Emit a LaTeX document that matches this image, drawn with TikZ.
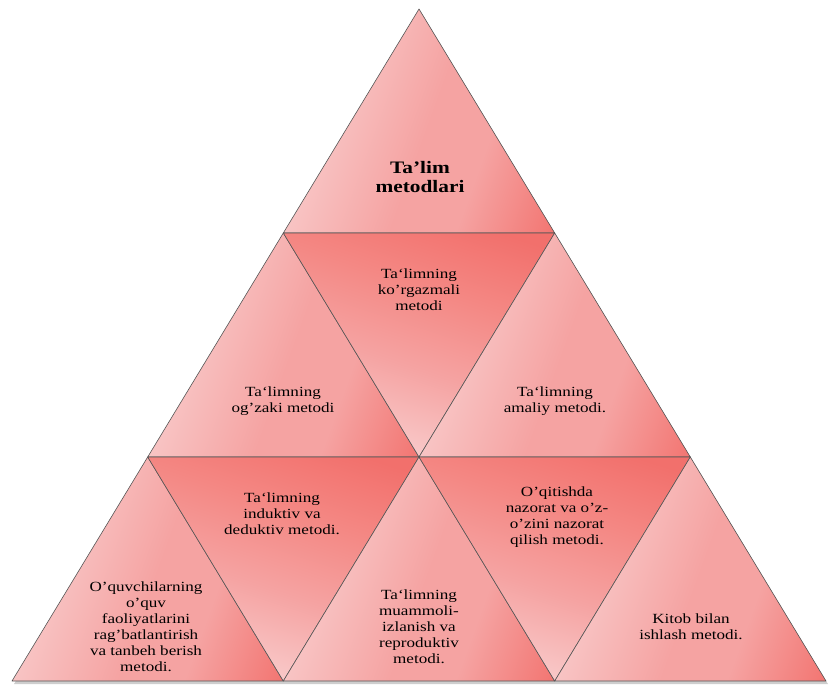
\documentclass[tikz,border=0pt]{standalone}
\usepackage{fontspec}
\setmainfont{Liberation Serif}[FakeStretch=1.22]
\definecolor{dk}{RGB}{242,112,108}
\definecolor{md}{RGB}{245,163,162}
\definecolor{mr}{RGB}{244,136,132}
\definecolor{lt}{RGB}{249,206,206}
\definecolor{edge}{RGB}{85,85,85}
\pgfdeclareverticalshading{upsh}{100bp}{color(0bp)=(lt); color(27bp)=(lt); color(52bp)=(md); color(64bp)=(md); color(84bp)=(dk); color(100bp)=(dk)}
\pgfdeclareverticalshading{dnsh}{100bp}{color(0bp)=(lt); color(25bp)=(lt); color(45bp)=(md); color(62bp)=(mr); color(78bp)=(dk); color(100bp)=(dk)}
\tikzset{
  tri/.style={draw=edge, line width=0.6pt, line join=round},
  uptri/.style={tri, shade, shading=upsh, shading angle=-110},
  dntri/.style={tri, shade, shading=dnsh, shading angle=-18},
  lbl/.style={align=center, inner sep=0pt, font=\fontsize{14}{16}\selectfont, text=black},
  ttl/.style={align=center, inner sep=0pt, font=\fontsize{17.5}{19}\selectfont\bfseries, text=black}
}
\begin{document}
\begin{tikzpicture}[x=1pt,y=-1pt]
\useasboundingbox (0,0) rectangle (831,685);
% vertices
\coordinate (A)  at (419,9);
\coordinate (L1) at (283.3,233);
\coordinate (R1) at (554.7,233);
\coordinate (L2) at (147.7,457);
\coordinate (M2) at (419,457);
\coordinate (R2) at (690.3,457);
\coordinate (B0) at (12,681);
\coordinate (B1) at (283.3,681);
\coordinate (B2) at (554.7,681);
\coordinate (B3) at (826,681);
% shadow
\fill[gray!55, opacity=0.7] ([shift={(2,3)}]A) -- ([shift={(2,3)}]B3) -- ([shift={(2,3)}]B0) -- cycle;
% triangles
\path[uptri] (A) -- (L1) -- (R1) -- cycle;
\path[uptri] (L1) -- (L2) -- (M2) -- cycle;
\path[dntri] (L1) -- (R1) -- (M2) -- cycle;
\path[uptri] (R1) -- (M2) -- (R2) -- cycle;
\path[uptri] (L2) -- (B0) -- (B1) -- cycle;
\path[dntri] (L2) -- (M2) -- (B1) -- cycle;
\path[uptri] (M2) -- (B1) -- (B2) -- cycle;
\path[dntri] (M2) -- (R2) -- (B2) -- cycle;
\path[uptri] (R2) -- (B2) -- (B3) -- cycle;
% labels
\node[ttl] (t0) at (420,177) {Ta’lim\\metodlari};
\node[lbl] (t1) at (419,290) {Ta‘limning\\ko’rgazmali\\metodi};
\node[lbl] (t2) at (283,401.5) {Ta‘limning\\og’zaki metodi};
\node[lbl] (t3) at (555,401.5) {Ta‘limning\\amaliy metodi.};
\node[lbl] (t4) at (282,514) {Ta‘limning\\induktiv va\\deduktiv metodi.};
\node[lbl] (t5) at (557,517) {O’qitishda\\nazorat va o’z-\\o’zini nazorat\\qilish metodi.};
\node[lbl] (t6) at (146,627) {O’quvchilarning\\o’quv\\faoliyatlarini\\rag’batlantirish\\va tanbeh berish\\metodi.};
\node[lbl] (t7) at (419,627) {Ta‘limning\\muammoli-\\izlanish va\\reproduktiv\\metodi.};
\node[lbl] (t8) at (691,627) {Kitob bilan\\ishlash metodi.};
\end{tikzpicture}
\end{document}
